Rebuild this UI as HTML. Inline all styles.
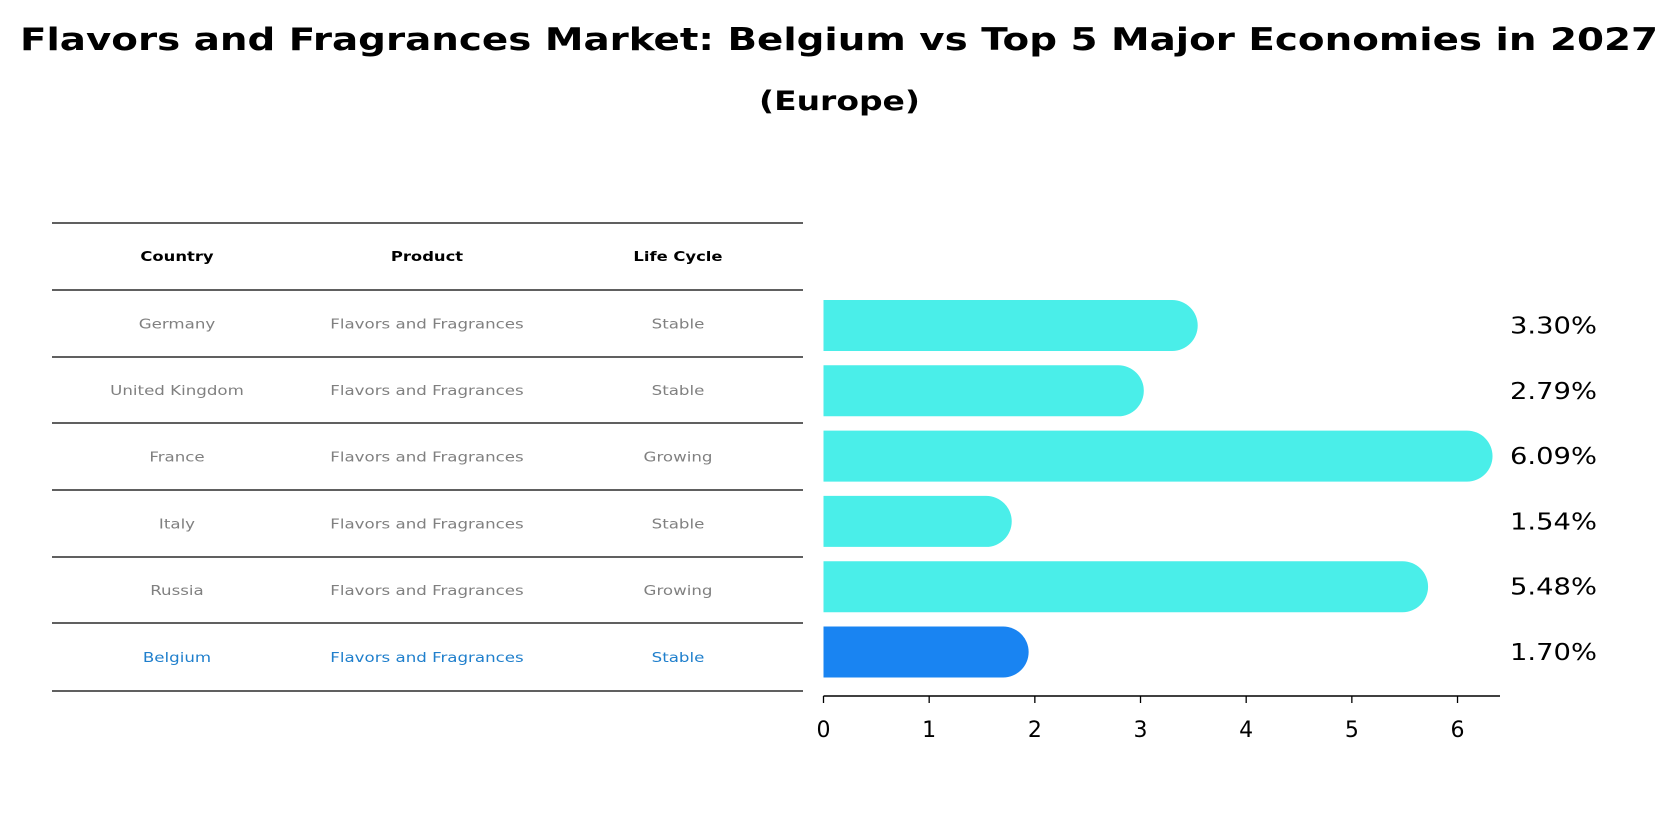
<!DOCTYPE html>
<html><head><meta charset="utf-8"><style>
body{margin:0;background:#fff;width:1679px;height:823px;overflow:hidden;font-family:"DejaVu Sans","Liberation Sans",sans-serif}
</style></head><body>
<svg width="1679" height="823" xmlns="http://www.w3.org/2000/svg">
<text x="20" y="50" font-size="31" font-weight="bold" textLength="1638" lengthAdjust="spacingAndGlyphs">Flavors and Fragrances Market: Belgium vs Top 5 Major Economies in 2027</text>
<text x="759" y="110" font-size="27" font-weight="bold" textLength="161" lengthAdjust="spacingAndGlyphs">(Europe)</text>
<g id="table"></g>
<g id="bars"></g>
</svg>
<script>
const countries=["Germany","United Kingdom","France","Italy","Russia","Belgium"];
const products=["Flavors and Fragrances","Flavors and Fragrances","Flavors and Fragrances","Flavors and Fragrances","Flavors and Fragrances","Flavors and Fragrances"];
const lifecycles=["Stable","Stable","Growing","Stable","Growing","Stable"];
const values=[3.30,2.79,6.09,1.54,5.48,1.70];
const ticks=[0,1,2,3,4,5,6];
const NS="http://www.w3.org/2000/svg";
function mk(t,a,p){const e=document.createElementNS(NS,t);for(const k in a)e.setAttribute(k,a[k]);p.appendChild(e);return e;}
function widen(t,r){const w=t.getComputedTextLength();t.setAttribute('textLength',(w*r).toFixed(1));t.setAttribute('lengthAdjust','spacingAndGlyphs');}
const tbl=document.getElementById('table');
const lineYs=[223,290,357,423,490,557,623,691];
lineYs.forEach(y=>{const l=mk('line',{x1:52,x2:803,y1:y,y2:y,stroke:'#000','stroke-width':1.2},tbl);

});
const colX=[177,427,678];
["Country","Product","Life Cycle"].forEach((h,i)=>{const t=mk('text',{x:colX[i],y:261,'text-anchor':'middle','font-size':13,'font-weight':'bold'},tbl);t.textContent=h;


widen(t,1.26);});
countries.forEach((c,r)=>{const y=(lineYs[r+1]+lineYs[r+2])/2+5;const col=r===5?'#1f7fcc':'#808080';
[c,products[r],lifecycles[r]].forEach((v,i)=>{const t=mk('text',{x:colX[i],y:y,'text-anchor':'middle','font-size':13,fill:col},tbl);t.textContent=v;


widen(t,1.28);});});
const g=document.getElementById('bars');
const x0=823.5,unit=105.67;const xs=v=>x0+v*unit;
const yc=i=>325.5+i*65.3;const h=51;
values.forEach((v,i)=>{const xe=xs(v),yt=yc(i)-h/2,r=h/2;
const p=mk('path',{d:`M${x0},${yt} H${xe} A${r},${r} 0 0 1 ${xe},${yt+h} H${x0} Z`,fill:i===5?'#1984f2':'#4aeee9'},g);


const t=mk('text',{x:1510,y:yc(i)+8,'font-size':23},g);t.textContent=v.toFixed(2)+'%';


widen(t,1.19);});
const ax=mk('line',{x1:x0,x2:1500,y1:696,y2:696,stroke:'#000','stroke-width':1.5},g);


ticks.forEach(tv=>{const tl=mk('line',{x1:xs(tv),x2:xs(tv),y1:696,y2:703,stroke:'#000','stroke-width':1.3},g);


const t=mk('text',{x:xs(tv),y:737,'text-anchor':'middle','font-size':22},g);t.textContent=tv;

});
</script>
</body></html>
